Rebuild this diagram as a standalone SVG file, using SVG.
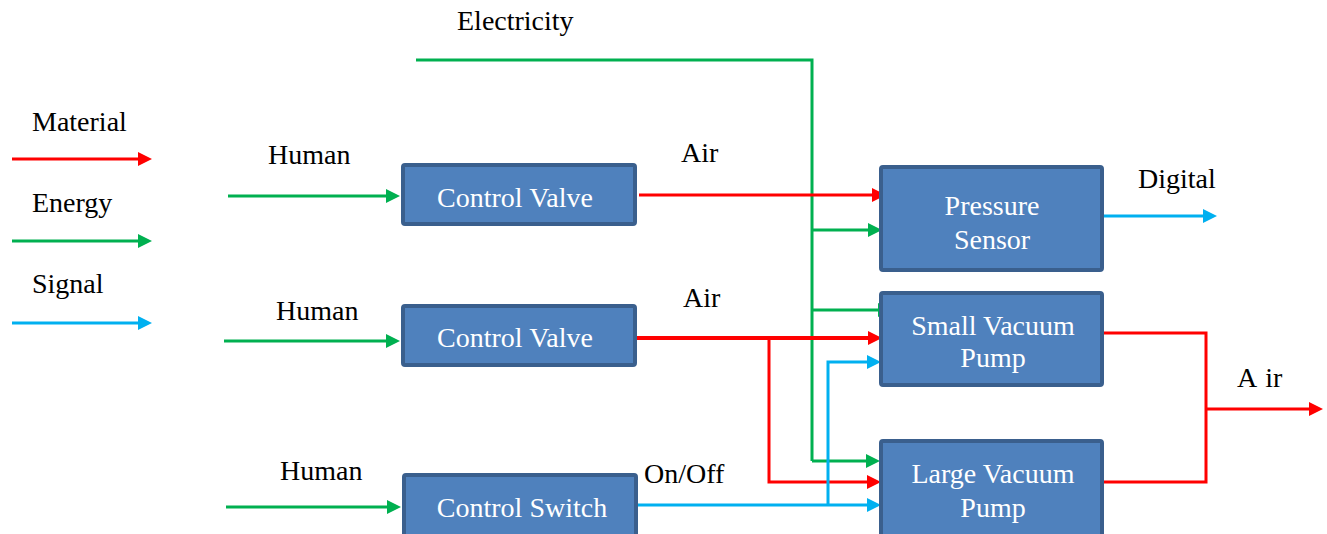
<svg xmlns="http://www.w3.org/2000/svg" width="1327" height="534" viewBox="0 0 1327 534">
<style>
.box{fill:#4F81BD;stroke:#3A5F8D;stroke-width:4}
.bt{font-family:"Liberation Serif","DejaVu Serif","Noto Serif",serif;font-size:28px;fill:#FFFFFF;text-anchor:middle}
.lb{font-family:"Liberation Serif","DejaVu Serif","Noto Serif",serif;font-size:28px;fill:#000000}
.r{stroke:#FF0000;stroke-width:3;fill:none}
.g{stroke:#00B050;stroke-width:3;fill:none}
.b{stroke:#00B0F0;stroke-width:3;fill:none}
</style>
<defs>
<marker id="ar" markerUnits="userSpaceOnUse" markerWidth="15" markerHeight="15" refX="3" refY="7" orient="auto"><path d="M0,0 L14,7 L0,14 z" fill="#FF0000"/></marker>
<marker id="ag" markerUnits="userSpaceOnUse" markerWidth="15" markerHeight="15" refX="3" refY="7" orient="auto"><path d="M0,0 L14,7 L0,14 z" fill="#00B050"/></marker>
<marker id="ab" markerUnits="userSpaceOnUse" markerWidth="15" markerHeight="15" refX="3" refY="7" orient="auto"><path d="M0,0 L14,7 L0,14 z" fill="#00B0F0"/></marker>
</defs>
<rect width="1327" height="534" fill="#FFFFFF"/>

<g id="legend">
<text class="lb" x="32" y="131">Material</text>
<text class="lb" x="32" y="212">Energy</text>
<text class="lb" x="32" y="293">Signal</text>
<line class="r" x1="12" y1="159" x2="141" y2="159" marker-end="url(#ar)"/>
<line class="g" x1="12" y1="241" x2="141" y2="241" marker-end="url(#ag)"/>
<line class="b" x1="12" y1="323" x2="141" y2="323" marker-end="url(#ab)"/>
</g>

<g id="connectors">
<polyline class="g" points="416,60 812,60 812,461"/>
<line class="g" x1="812" y1="230" x2="871" y2="230" marker-end="url(#ag)"/>
<line class="g" x1="812" y1="310" x2="881" y2="310" marker-end="url(#ag)"/>
<line class="g" x1="812" y1="461" x2="869" y2="461" marker-end="url(#ag)"/>
<line class="g" x1="228" y1="196" x2="389" y2="196" marker-end="url(#ag)"/>
<line class="g" x1="224" y1="341" x2="389" y2="341" marker-end="url(#ag)"/>
<line class="g" x1="226" y1="507" x2="390" y2="507" marker-end="url(#ag)"/>
<line class="r" x1="639" y1="195" x2="875" y2="195" marker-end="url(#ar)"/>
<line class="r" style="stroke-width:4" x1="637" y1="338" x2="871" y2="338" marker-end="url(#ar)"/>
<polyline class="r" points="769,338 769,482 870,482" marker-end="url(#ar)"/>
<line class="b" x1="638" y1="505" x2="870" y2="505" marker-end="url(#ab)"/>
<polyline class="b" points="828,505 828,362 870,362" marker-end="url(#ab)"/>
<line class="b" x1="1104" y1="216" x2="1206" y2="216" marker-end="url(#ab)"/>
<polyline class="r" points="1104,333 1206,333 1206,482 1104,482"/>
<line class="r" x1="1206" y1="409" x2="1312" y2="409" marker-end="url(#ar)"/>
</g>

<g id="labels">
<text class="lb" x="457" y="30">Electricity</text>
<text class="lb" x="268" y="164">Human</text>
<text class="lb" x="276" y="320">Human</text>
<text class="lb" x="280" y="480">Human</text>
<text class="lb" x="681" y="162">Air</text>
<text class="lb" x="683" y="307">Air</text>
<text class="lb" x="644" y="483">On/Off</text>
<text class="lb" x="1138" y="188">Digital</text>
<text class="lb" x="1237" y="387">A<tspan dx="8">ir</tspan></text>
</g>

<g id="cv1">
<rect class="box" x="403" y="165" width="232" height="59" rx="2"/>
<text class="bt" x="515" y="207">Control Valve</text>
</g>
<g id="cv2">
<rect class="box" x="403" y="306" width="232" height="59" rx="2"/>
<text class="bt" x="515" y="347">Control Valve</text>
</g>
<g id="cs">
<rect class="box" x="404" y="475" width="232" height="80" rx="2"/>
<text class="bt" x="522" y="517">Control Switch</text>
</g>
<g id="ps">
<rect class="box" x="881" y="167" width="221" height="103" rx="2"/>
<text class="bt" x="992" y="215">Pressure</text>
<text class="bt" x="992" y="249">Sensor</text>
</g>
<g id="svp">
<rect class="box" x="881" y="293" width="221" height="92" rx="2"/>
<text class="bt" x="993" y="335">Small  Vacuum</text>
<text class="bt" x="993" y="367">Pump</text>
</g>
<g id="lvp">
<rect class="box" x="881" y="441" width="221" height="110" rx="2"/>
<text class="bt" x="993" y="483">Large Vacuum</text>
<text class="bt" x="993" y="517">Pump</text>
</g>
</svg>
